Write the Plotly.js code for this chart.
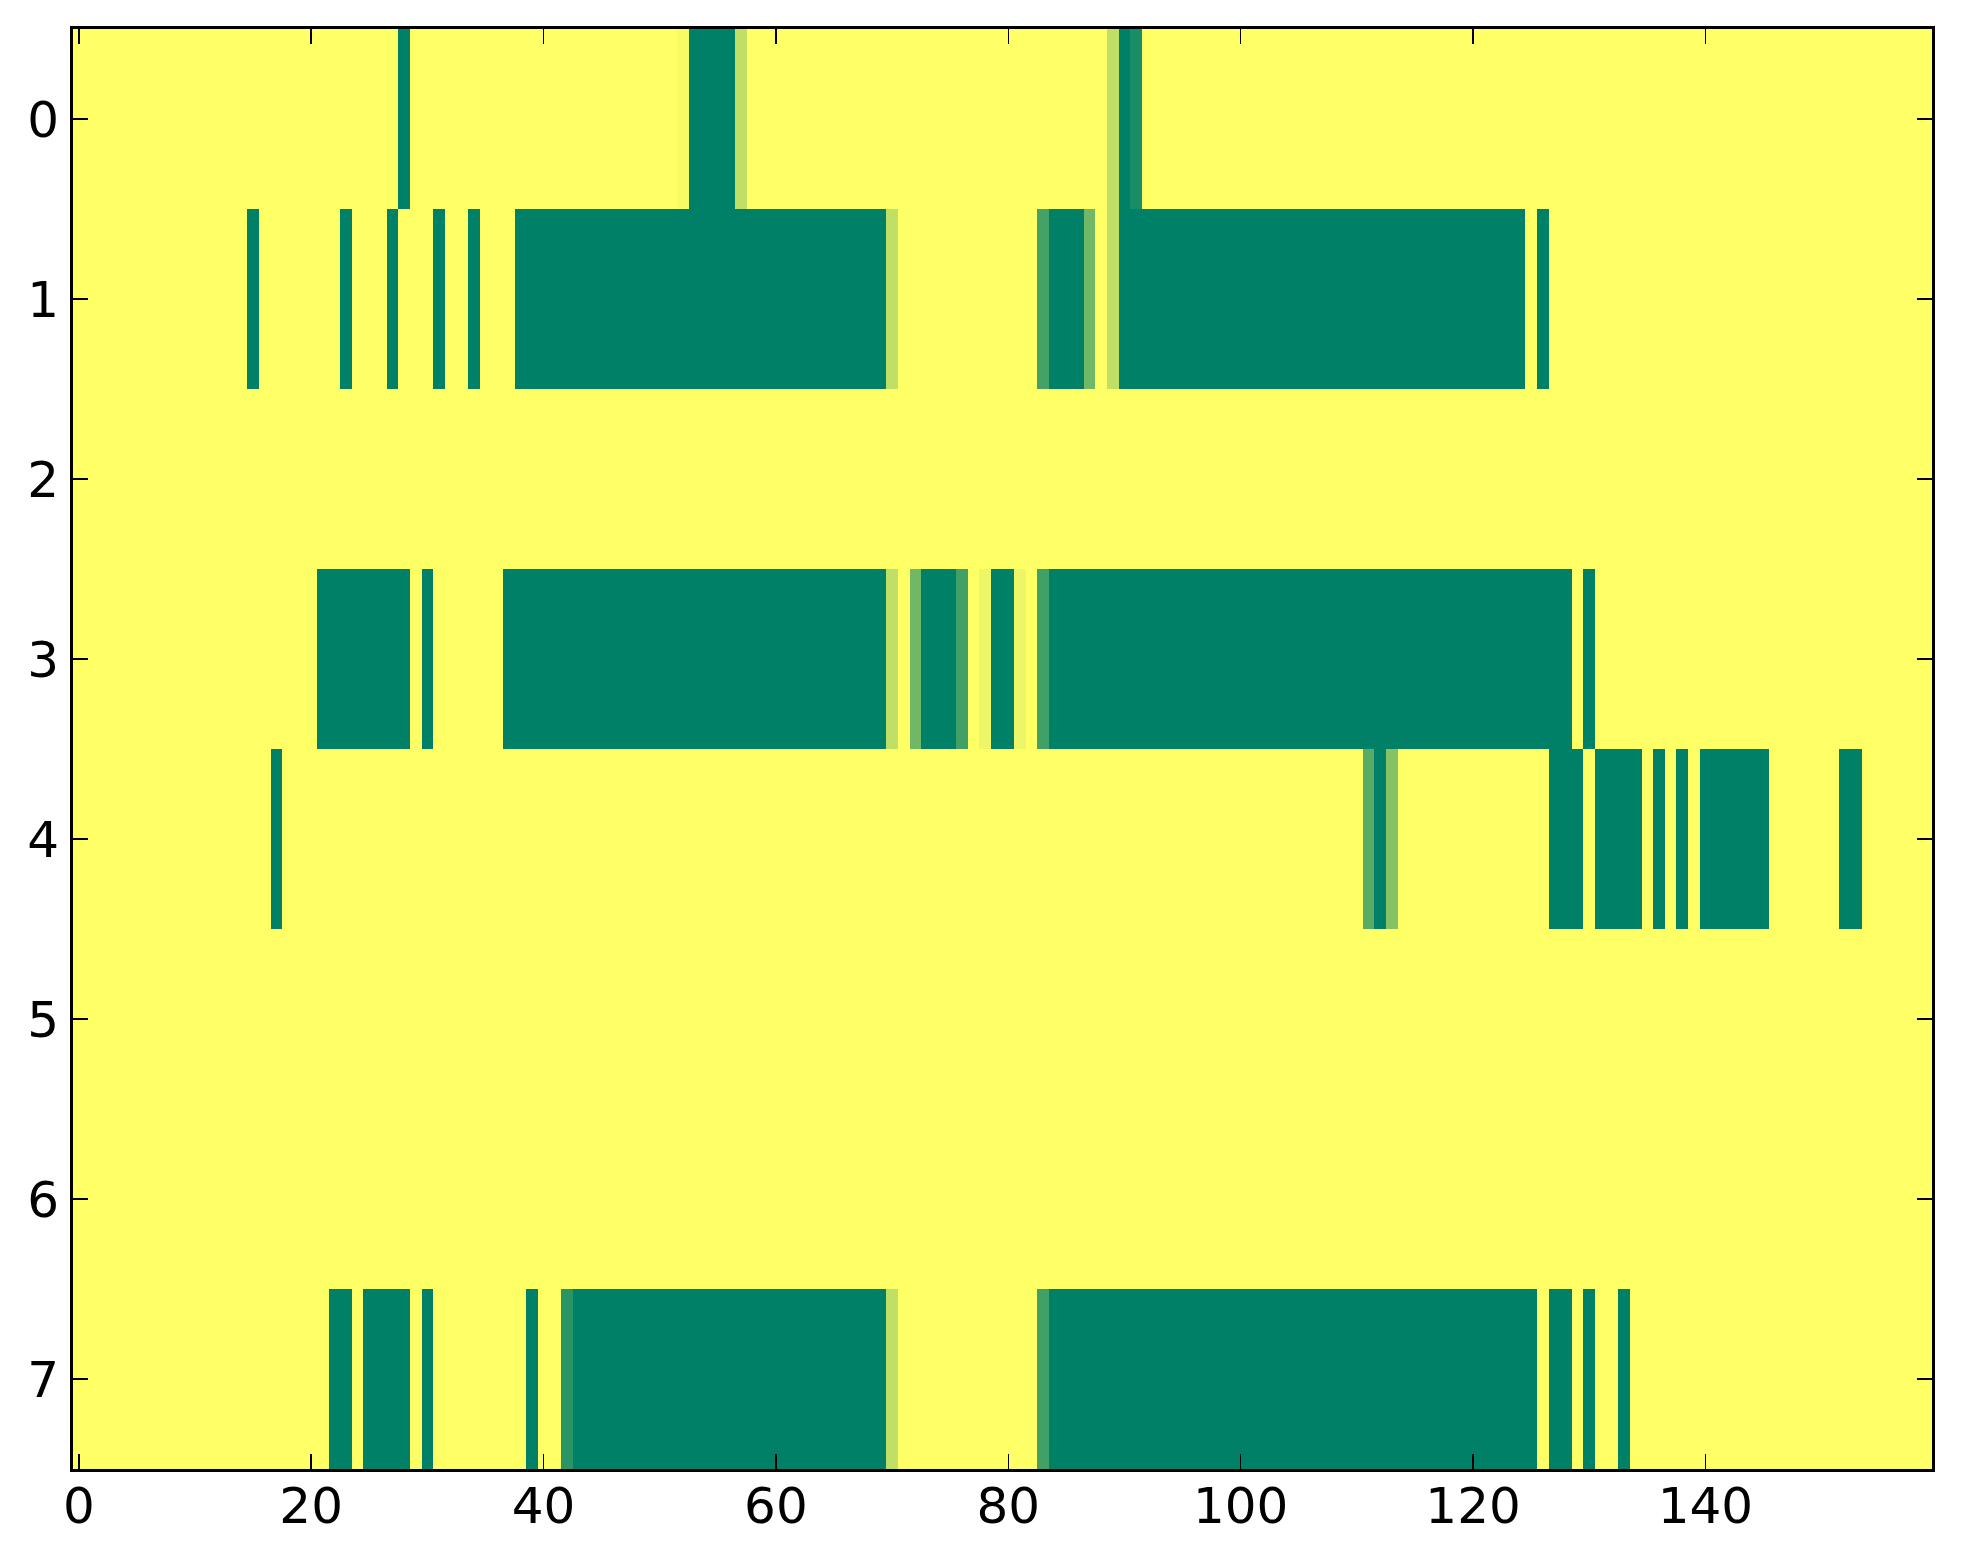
<!DOCTYPE html>
<html>
<head>
<meta charset="utf-8">
<script src="https://cdn.plot.ly/plotly-3.0.1.min.js"></script>
<style>
  html, body { margin: 0; padding: 0; background: #ffffff; }
  #chart { width: 1963px; height: 1564px; }
</style>
</head>
<body>
<div id="chart"></div>
<script>
// Column indices 0..159 and row indices 0..7
const rowLabels = [0, 1, 2, 3, 4, 5, 6, 7];
const xTickVals = [0, 20, 40, 60, 80, 100, 120, 140];

const row0 = [
  0,0,0,0,0,0,0,0,0,0,0,0,0,0,0,0,0,0,0,0,
  0,0,0,0,0,0,0,0,1,0,0,0,0,0,0,0,0,0,0,0,
  0,0,0,0,0,0,0,0,0,0,0,0,0.03,1,1,1,1,0.25,0,0,
  0,0,0,0,0,0,0,0,0,0,0,0,0,0,0,0,0,0,0,0,
  0,0,0,0,0,0,0,0,0,0.25,1,0.9,0,0,0,0,0,0,0,0,
  0,0,0,0,0,0,0,0,0,0,0,0,0,0,0,0,0,0,0,0,
  0,0,0,0,0,0,0,0,0,0,0,0,0,0,0,0,0,0,0,0,
  0,0,0,0,0,0,0,0,0,0,0,0,0,0,0,0,0,0,0,0
];
const row1 = [
  0,0,0,0,0,0,0,0,0,0,0,0,0,0,0,1,0,0,0,0,
  0,0,0,1,0,0,0,1,0,0,0,1,0,0,1,0,0,0,1,1,
  1,1,1,1,1,1,1,1,1,1,1,1,1,1,1,1,1,1,1,1,
  1,1,1,1,1,1,1,1,1,1,0.25,0,0,0,0,0,0,0,0,0,
  0,0,0,0.73,1,1,1,0.56,0,0.25,1,1,1,1,1,1,1,1,1,1,
  1,1,1,1,1,1,1,1,1,1,1,1,1,1,1,1,1,1,1,1,
  1,1,1,1,1,0,1,0,0,0,0,0,0,0,0,0,0,0,0,0,
  0,0,0,0,0,0,0,0,0,0,0,0,0,0,0,0,0,0,0,0
];
const row2 = [
  0,0,0,0,0,0,0,0,0,0,0,0,0,0,0,0,0,0,0,0,
  0,0,0,0,0,0,0,0,0,0,0,0,0,0,0,0,0,0,0,0,
  0,0,0,0,0,0,0,0,0,0,0,0,0,0,0,0,0,0,0,0,
  0,0,0,0,0,0,0,0,0,0,0,0,0,0,0,0,0,0,0,0,
  0,0,0,0,0,0,0,0,0,0,0,0,0,0,0,0,0,0,0,0,
  0,0,0,0,0,0,0,0,0,0,0,0,0,0,0,0,0,0,0,0,
  0,0,0,0,0,0,0,0,0,0,0,0,0,0,0,0,0,0,0,0,
  0,0,0,0,0,0,0,0,0,0,0,0,0,0,0,0,0,0,0,0
];
const row3 = [
  0,0,0,0,0,0,0,0,0,0,0,0,0,0,0,0,0,0,0,0,
  0,1,1,1,1,1,1,1,1,0,1,0,0,0,0,0,0,1,1,1,
  1,1,1,1,1,1,1,1,1,1,1,1,1,1,1,1,1,1,1,1,
  1,1,1,1,1,1,1,1,1,1,0.25,0,0.56,1,1,1,0.75,0,0.07,1,
  1,0.07,0,0.75,1,1,1,1,1,1,1,1,1,1,1,1,1,1,1,1,
  1,1,1,1,1,1,1,1,1,1,1,1,1,1,1,1,1,1,1,1,
  1,1,1,1,1,1,1,1,1,0,1,0,0,0,0,0,0,0,0,0,
  0,0,0,0,0,0,0,0,0,0,0,0,0,0,0,0,0,0,0,0
];
const row4 = [
  0,0,0,0,0,0,0,0,0,0,0,0,0,0,0,0,0,1,0,0,
  0,0,0,0,0,0,0,0,0,0,0,0,0,0,0,0,0,0,0,0,
  0,0,0,0,0,0,0,0,0,0,0,0,0,0,0,0,0,0,0,0,
  0,0,0,0,0,0,0,0,0,0,0,0,0,0,0,0,0,0,0,0,
  0,0,0,0,0,0,0,0,0,0,0,0,0,0,0,0,0,0,0,0,
  0,0,0,0,0,0,0,0,0,0,0,0.65,1,0.48,0,0,0,0,0,0,
  0,0,0,0,0,0,0,1,1,1,0,1,1,1,1,0,1,0,1,0,
  1,1,1,1,1,1,0,0,0,0,0,0,1,1,0,0,0,0,0,0
];
const row5 = [
  0,0,0,0,0,0,0,0,0,0,0,0,0,0,0,0,0,0,0,0,
  0,0,0,0,0,0,0,0,0,0,0,0,0,0,0,0,0,0,0,0,
  0,0,0,0,0,0,0,0,0,0,0,0,0,0,0,0,0,0,0,0,
  0,0,0,0,0,0,0,0,0,0,0,0,0,0,0,0,0,0,0,0,
  0,0,0,0,0,0,0,0,0,0,0,0,0,0,0,0,0,0,0,0,
  0,0,0,0,0,0,0,0,0,0,0,0,0,0,0,0,0,0,0,0,
  0,0,0,0,0,0,0,0,0,0,0,0,0,0,0,0,0,0,0,0,
  0,0,0,0,0,0,0,0,0,0,0,0,0,0,0,0,0,0,0,0
];
const row6 = [
  0,0,0,0,0,0,0,0,0,0,0,0,0,0,0,0,0,0,0,0,
  0,0,0,0,0,0,0,0,0,0,0,0,0,0,0,0,0,0,0,0,
  0,0,0,0,0,0,0,0,0,0,0,0,0,0,0,0,0,0,0,0,
  0,0,0,0,0,0,0,0,0,0,0,0,0,0,0,0,0,0,0,0,
  0,0,0,0,0,0,0,0,0,0,0,0,0,0,0,0,0,0,0,0,
  0,0,0,0,0,0,0,0,0,0,0,0,0,0,0,0,0,0,0,0,
  0,0,0,0,0,0,0,0,0,0,0,0,0,0,0,0,0,0,0,0,
  0,0,0,0,0,0,0,0,0,0,0,0,0,0,0,0,0,0,0,0
];
const row7 = [
  0,0,0,0,0,0,0,0,0,0,0,0,0,0,0,0,0,0,0,0,
  0,0,1,1,0,1,1,1,1,0,1,0,0,0,0,0,0,0,0,1,
  0,0,0.84,1,1,1,1,1,1,1,1,1,1,1,1,1,1,1,1,1,
  1,1,1,1,1,1,1,1,1,1,0.25,0,0,0,0,0,0,0,0,0,
  0,0,0,0.75,1,1,1,1,1,1,1,1,1,1,1,1,1,1,1,1,
  1,1,1,1,1,1,1,1,1,1,1,1,1,1,1,1,1,1,1,1,
  1,1,1,1,1,1,0,1,1,0,1,0,0,1,0,0,0,0,0,0,
  0,0,0,0,0,0,0,0,0,0,0,0,0,0,0,0,0,0,0,0
];

const zRows = [row0, row1, row2, row3, row4, row5, row6, row7];

const trace = {
  type: 'heatmap',
  z: zRows,
  y: rowLabels,
  zmin: 0,
  zmax: 1,
  zsmooth: false,
  showscale: false,
  hoverinfo: 'skip',
  colorscale: [[0, 'rgb(255,255,102)'], [1, 'rgb(0,128,102)']]
};

const axisFont = { family: 'DejaVu Sans, sans-serif', size: 50, color: '#000000' };

const layout = {
  width: 1963,
  height: 1564,
  margin: { l: 73, r: 31, t: 29, b: 95, pad: 0 },
  paper_bgcolor: '#ffffff',
  plot_bgcolor: '#ffffff',
  showlegend: false,
  xaxis: {
    range: [-0.5, 159.5],
    tickvals: xTickVals,
    ticktext: xTickVals.map(String),
    ticks: 'inside',
    ticklen: 15,
    tickwidth: 1.4,
    tickcolor: '#000000',
    showline: true,
    linecolor: '#000000',
    linewidth: 3,
    mirror: 'allticks',
    showgrid: false,
    zeroline: false,
    tickfont: axisFont,
    ticklabelstandoff: -9
  },
  yaxis: {
    range: [7.5, -0.5],
    tickvals: rowLabels,
    ticktext: rowLabels.map(String),
    ticks: 'inside',
    ticklen: 15,
    tickwidth: 1.4,
    tickcolor: '#000000',
    showline: true,
    linecolor: '#000000',
    linewidth: 3,
    mirror: 'allticks',
    showgrid: false,
    zeroline: false,
    tickfont: axisFont,
    ticklabelstandoff: 1
  }
};

Plotly.newPlot('chart', [trace], layout, { staticPlot: true, displayModeBar: false });
</script>
</body>
</html>
